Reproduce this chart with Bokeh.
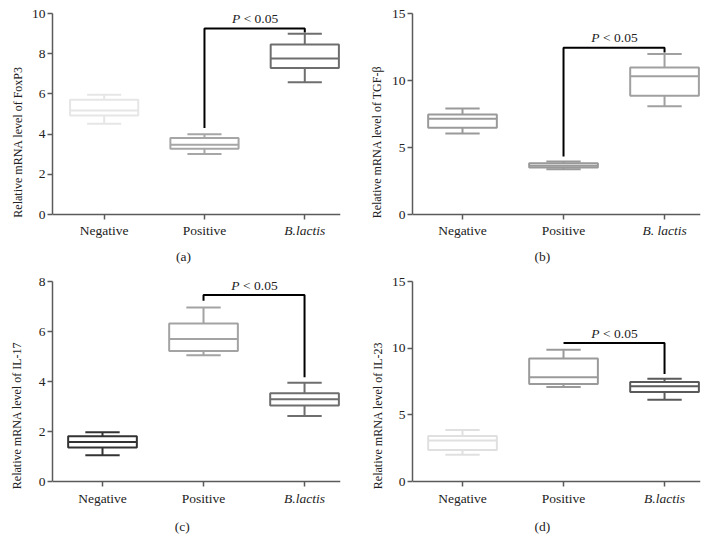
from bokeh.plotting import figure
from bokeh.models import Range1d, FixedTicker, Label
from bokeh.layouts import gridplot
from bokeh.embed import file_html
from bokeh.resources import INLINE

# ---------------- data ----------------
groups = ["Negative", "Positive", "B.lactis"]
groups_b = ["Negative", "Positive", "B. lactis"]

# (a) FoxP3
foxp3_low = [4.52, 3.01, 6.58]
foxp3_q1 = [4.93, 3.27, 7.29]
foxp3_med = [5.18, 3.47, 7.76]
foxp3_q3 = [5.71, 3.80, 8.46]
foxp3_high = [5.96, 3.99, 8.99]

# (b) TGF-beta
tgf_low = [6.04, 3.38, 8.08]
tgf_q1 = [6.47, 3.51, 8.86]
tgf_med = [7.14, 3.63, 10.32]
tgf_q3 = [7.46, 3.83, 10.97]
tgf_high = [7.91, 3.96, 11.97]

# (c) IL-17
il17_low = [1.05, 5.05, 2.62]
il17_q1 = [1.36, 5.22, 3.04]
il17_med = [1.58, 5.70, 3.29]
il17_q3 = [1.81, 6.32, 3.53]
il17_high = [1.97, 6.96, 3.95]

# (d) IL-23
il23_low = [2.00, 7.09, 6.14]
il23_q1 = [2.37, 7.31, 6.71]
il23_med = [3.07, 7.81, 7.14]
il23_q3 = [3.42, 9.23, 7.46]
il23_high = [3.87, 9.88, 7.71]

# significance brackets (Positive vs B.lactis): [left end, bar height, right end]
foxp3_bracket = [4.30, 9.25, 9.05]
tgf_bracket = [4.33, 12.44, 12.09]
il17_bracket = [7.23, 7.46, 4.17]
il23_bracket = [10.38, 10.38, 8.06]

y_label_a = "Relative mRNA level of FoxP3"
y_label_b = "Relative mRNA level of TGF-β"
y_label_c = "Relative mRNA level of IL-17"
y_label_d = "Relative mRNA level of IL-23"

ticks_a = [0, 2, 4, 6, 8, 10]
ticks_b = [0, 5, 10, 15]
ticks_c = [0, 2, 4, 6, 8]
ticks_d = [0, 5, 10, 15]

colors_a = ["#e6e6e6", "#a6a6a6", "#6e6e6e"]
colors_b = ["#9a9a9a", "#999999", "#a0a0a0"]
colors_c = ["#333333", "#a3a3a3", "#6e6e6e"]
colors_d = ["#e0e0e0", "#9a9a9a", "#5a5a5a"]

SERIF = "Liberation Serif"
AXIS_COLOR = "#5a5a5a"
TEXT_COLOR = "#222222"
FS = "13.5px"


def make_panel(caption, names, low, q1, med, q3, high, bracket, ylabel, yticks,
               colors, width, height, left, right, top, plot_h, xr,
               label_standoff, cat_off, cap_off):
    ymax = yticks[-1]
    pad_px = height - top - plot_h          # space below y = 0 inside the frame
    ymin = -pad_px * ymax / plot_h
    p = figure(width=width, height=height, output_backend="svg",
               toolbar_location=None,
               x_range=Range1d(xr[0], xr[1]),
               y_range=Range1d(ymin, ymax),
               min_border_left=left, min_border_right=right,
               min_border_top=top, min_border_bottom=0)
    p.outline_line_color = None
    p.xgrid.grid_line_color = None
    p.ygrid.grid_line_color = None
    p.background_fill_color = "white"
    p.border_fill_color = "white"

    xs = list(range(len(names)))
    bw = 0.68
    cw = 0.34
    p.vbar(x=xs, width=bw, bottom=q1, top=q3, fill_color=None,
           line_color=colors, line_width=2)
    p.segment(x0=[x - bw / 2 for x in xs], x1=[x + bw / 2 for x in xs],
              y0=med, y1=med, line_color=colors, line_width=2)
    p.segment(x0=xs, x1=xs, y0=q3, y1=high, line_color=colors, line_width=2)
    p.segment(x0=xs, x1=xs, y0=q1, y1=low, line_color=colors, line_width=2)
    p.segment(x0=[x - cw / 2 for x in xs], x1=[x + cw / 2 for x in xs],
              y0=high, y1=high, line_color=colors, line_width=2)
    p.segment(x0=[x - cw / 2 for x in xs], x1=[x + cw / 2 for x in xs],
              y0=low, y1=low, line_color=colors, line_width=2)

    # significance bracket between Positive (1) and B.lactis (2)
    p.line(x=[1, 1, 2, 2], y=[bracket[0], bracket[1], bracket[1], bracket[2]],
           line_color="black", line_width=2)
    mid = 1.5
    p.add_layout(Label(x=mid, y=bracket[1], x_offset=-14.5, y_offset=10,
                       text="P", text_align="right", text_baseline="middle",
                       text_font=SERIF, text_font_style="italic",
                       text_font_size=FS, text_color=TEXT_COLOR))
    p.add_layout(Label(x=mid, y=bracket[1], x_offset=-11, y_offset=10,
                       text="< 0.05", text_align="left", text_baseline="middle",
                       text_font=SERIF, text_font_size=FS,
                       text_color=TEXT_COLOR))

    for ax in (p.xaxis[0], p.yaxis[0]):
        ax.axis_line_color = AXIS_COLOR
        ax.axis_line_width = 1.5
        ax.major_tick_line_color = AXIS_COLOR
        ax.major_tick_line_width = 1.5
        ax.major_tick_out = 5
        ax.major_tick_in = 0
        ax.minor_tick_line_color = None
        ax.major_label_text_font = SERIF
        ax.major_label_text_font_size = FS
        ax.major_label_text_color = TEXT_COLOR
    p.xaxis.fixed_location = 0
    p.xaxis.ticker = FixedTicker(ticks=xs)
    p.xaxis.major_label_overrides = {x: "" for x in xs}
    p.yaxis.bounds = (0, ymax)
    p.yaxis.ticker = FixedTicker(ticks=yticks)
    p.yaxis.major_label_standoff = 2
    p.yaxis.axis_label = ylabel
    p.yaxis.axis_label_text_font = SERIF
    p.yaxis.axis_label_text_font_style = "normal"
    p.yaxis.axis_label_text_font_size = "12px"
    p.yaxis.axis_label_text_color = TEXT_COLOR
    p.yaxis.axis_label_standoff = label_standoff

    for i, name in enumerate(names):
        p.add_layout(Label(x=i, y=0, y_offset=-cat_off, text=name,
                           text_align="center", text_baseline="middle",
                           text_font=SERIF, text_font_size=FS,
                           text_font_style="italic" if i == len(names) - 1 else "normal",
                           text_color=TEXT_COLOR))
    p.add_layout(Label(x=0.79, y=0, y_offset=-cap_off, text=caption,
                       text_align="center", text_baseline="middle",
                       text_font=SERIF, text_font_size=FS,
                       text_color=TEXT_COLOR))
    return p


pa = make_panel("(a)", groups, foxp3_low, foxp3_q1, foxp3_med, foxp3_q3, foxp3_high,
                foxp3_bracket, y_label_a, ticks_a, colors_a,
                360, 270, 50, 20, 13, 201, (-0.515, 2.356), 4, 16, 42)
pb = make_panel("(b)", groups_b, tgf_low, tgf_q1, tgf_med, tgf_q3, tgf_high,
                tgf_bracket, y_label_b, ticks_b, colors_b,
                362, 270, 52, 22, 13, 201, (-0.495, 2.356), 5, 16, 42)
pc = make_panel("(c)", groups, il17_low, il17_q1, il17_med, il17_q3, il17_high,
                il17_bracket, y_label_c, ticks_c, colors_c,
                360, 279, 52, 20, 11, 200, (-0.495, 2.356), 12, 17, 45)
pd = make_panel("(d)", groups, il23_low, il23_q1, il23_med, il23_q3, il23_high,
                il23_bracket, y_label_d, ticks_d, colors_d,
                362, 279, 52, 22, 11, 200, (-0.495, 2.356), 4, 17, 45)

grid = gridplot([[pa, pb], [pc, pd]], toolbar_location=None)

open("out.html", "w").write(file_html(grid, INLINE))
